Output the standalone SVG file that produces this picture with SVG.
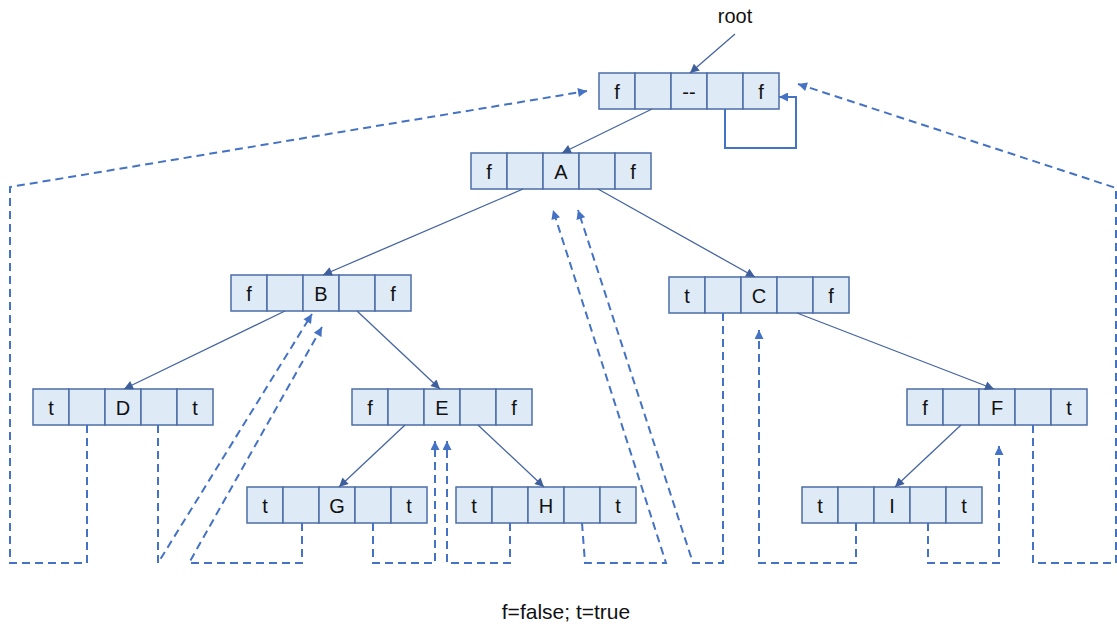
<svg xmlns="http://www.w3.org/2000/svg" width="1117" height="626" viewBox="0 0 1117 626">
<defs>
<style>
.cell{fill:#DEEAF6;stroke:#4C6EA6;stroke-width:1.5}
.lbl{font-family:"Liberation Sans",Arial,sans-serif;font-size:20px;fill:#111;text-anchor:middle}
.solid{fill:none;stroke:#4565A0;stroke-width:1.3}
.dash{fill:none;stroke:#4472C4;stroke-width:2;stroke-dasharray:8 5}
.txt{font-family:"Liberation Sans",Arial,sans-serif;fill:#111;text-anchor:middle}
</style>
<marker id="ah" markerUnits="userSpaceOnUse" viewBox="0 0 10 10" refX="10" refY="5" markerWidth="10" markerHeight="9" orient="auto">
<path d="M0,0 L10,5 L0,10 z" fill="#3F5F9C"/>
</marker>
<marker id="ahd" markerUnits="userSpaceOnUse" viewBox="0 0 10 10" refX="10" refY="5" markerWidth="10" markerHeight="9" orient="auto">
<path d="M0,0 L10,5 L0,10 z" fill="#4472C4"/>
</marker>
<g id="rec">
<rect class="cell" x="0" y="0" width="36" height="36"/>
<rect class="cell" x="36" y="0" width="36" height="36"/>
<rect class="cell" x="72" y="0" width="36" height="36"/>
<rect class="cell" x="108" y="0" width="36" height="36"/>
<rect class="cell" x="144" y="0" width="36" height="36"/>
</g>
</defs>
<rect width="1117" height="626" fill="#fff"/>

<g id="root-label"><text class="txt" x="735" y="23" font-size="20">root</text></g>

<g id="node-root" transform="translate(599,73)"><use href="#rec"/><text class="lbl" x="18" y="26">f</text><text class="lbl" x="90" y="26">--</text><text class="lbl" x="162" y="26">f</text></g>
<g id="node-A" transform="translate(471,153)"><use href="#rec"/><text class="lbl" x="18" y="26">f</text><text class="lbl" x="90" y="26">A</text><text class="lbl" x="162" y="26">f</text></g>
<g id="node-B" transform="translate(231,275)"><use href="#rec"/><text class="lbl" x="18" y="26">f</text><text class="lbl" x="90" y="26">B</text><text class="lbl" x="162" y="26">f</text></g>
<g id="node-C" transform="translate(669,277)"><use href="#rec"/><text class="lbl" x="18" y="26">t</text><text class="lbl" x="90" y="26">C</text><text class="lbl" x="162" y="26">f</text></g>
<g id="node-D" transform="translate(33,389)"><use href="#rec"/><text class="lbl" x="18" y="26">t</text><text class="lbl" x="90" y="26">D</text><text class="lbl" x="162" y="26">t</text></g>
<g id="node-E" transform="translate(352,389)"><use href="#rec"/><text class="lbl" x="18" y="26">f</text><text class="lbl" x="90" y="26">E</text><text class="lbl" x="162" y="26">f</text></g>
<g id="node-F" transform="translate(907,389)"><use href="#rec"/><text class="lbl" x="18" y="26">f</text><text class="lbl" x="90" y="26">F</text><text class="lbl" x="162" y="26">t</text></g>
<g id="node-G" transform="translate(247,487)"><use href="#rec"/><text class="lbl" x="18" y="26">t</text><text class="lbl" x="90" y="26">G</text><text class="lbl" x="162" y="26">t</text></g>
<g id="node-H" transform="translate(456,487)"><use href="#rec"/><text class="lbl" x="18" y="26">t</text><text class="lbl" x="90" y="26">H</text><text class="lbl" x="162" y="26">t</text></g>
<g id="node-I" transform="translate(802,487)"><use href="#rec"/><text class="lbl" x="18" y="26">t</text><text class="lbl" x="90" y="26">I</text><text class="lbl" x="162" y="26">t</text></g>

<g id="connectors">
<path class="solid" marker-end="url(#ah)" d="M735,34 L690,73"/>
<path class="solid" marker-end="url(#ah)" d="M652,109 L562,153"/>
<path class="solid" marker-end="url(#ah)" d="M523,189 L323,275"/>
<path class="solid" marker-end="url(#ah)" d="M598,189 L755,277"/>
<path class="solid" marker-end="url(#ah)" d="M285,311 L124,389"/>
<path class="solid" marker-end="url(#ah)" d="M357,311 L440,389"/>
<path class="solid" marker-end="url(#ah)" d="M405,425 L339,487"/>
<path class="solid" marker-end="url(#ah)" d="M478,425 L544,487"/>
<path class="solid" marker-end="url(#ah)" d="M797,313 L994,389"/>
<path class="solid" marker-end="url(#ah)" d="M961,425 L895,487"/>
<path fill="none" stroke="#4472C4" stroke-width="2" marker-end="url(#ahd)" d="M725,109 L725,148 L796,148 L796,97 L779,97"/>

<path class="dash" marker-end="url(#ahd)" d="M87,425 L87,563 L10,563 L10,187 L587,91"/>
<path class="dash" marker-end="url(#ahd)" d="M158,425 L158,563 L312,314"/>
<path class="dash" marker-end="url(#ahd)" d="M302,523 L302,563 L189,563 L322,327"/>
<path class="dash" marker-end="url(#ahd)" d="M373,523 L373,563 L435,563 L435,441"/>
<path class="dash" marker-end="url(#ahd)" d="M510,523 L510,563 L447,563 L447,441"/>
<path class="dash" marker-end="url(#ahd)" d="M582,523 L585,563 L666,563 L553,210"/>
<path class="dash" marker-end="url(#ahd)" d="M723,313 L723,563 L693,563 L578,210"/>
<path class="dash" marker-end="url(#ahd)" d="M856,523 L856,563 L759,563 L759,330"/>
<path class="dash" marker-end="url(#ahd)" d="M928,523 L928,563 L999,563 L999,446"/>
<path class="dash" marker-end="url(#ahd)" d="M1033,425 L1033,563 L1116,563 L1116,188 L798,84"/>
</g>

<g id="legend"><text class="txt" x="566" y="619" font-size="21">f=false; t=true</text></g>
</svg>
